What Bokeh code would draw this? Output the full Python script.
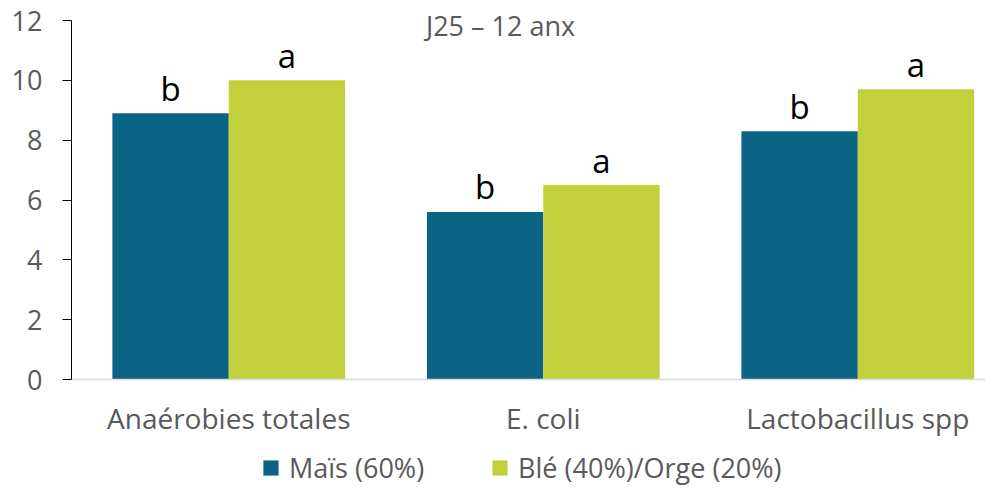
from bokeh.plotting import figure
from bokeh.layouts import column
from bokeh.models import (Range1d, FixedTicker, ColumnDataSource, Legend, LegendItem, Label)
from bokeh.core.properties import value
from bokeh.embed import file_html
from bokeh.resources import INLINE

categories = ["Anaérobies totales", "E. coli", "Lactobacillus spp"]
series_names = ["Maïs (60%)", "Blé (40%)/Orge (20%)"]
mais = [8.9, 5.6, 8.3]
ble = [10.0, 6.5, 9.7]
mais_letters = ["b", "b", "b"]
ble_letters = ["a", "a", "a"]
title_text = "J25 – 12 anx"
y_ticks = [0, 2, 4, 6, 8, 10, 12]

C_MAIS = "#0B6483"
C_BLE = "#C2D13B"
GREY = "#595959"
FONT = "Open Sans"

centers = [i + 0.5 for i in range(len(categories))]
bw = 0.37
y_max = max(y_ticks)

# main chart: frame spans 2px..379px; the y axis line stops at 12
p = figure(width=985, height=448, output_backend="svg", toolbar_location=None,
           x_range=Range1d(0, 2.906), y_range=Range1d(0, y_max * 377 / 359),
           min_border_left=71, min_border_top=2, min_border_right=0, min_border_bottom=69)
p.outline_line_color = None
p.grid.grid_line_color = None
p.background_fill_color = None
p.border_fill_color = "white"

src_m = ColumnDataSource(dict(x=[c - bw / 2 for c in centers], top=mais, t=mais_letters))
src_b = ColumnDataSource(dict(x=[c + bw / 2 for c in centers], top=ble, t=ble_letters))

r_m = p.vbar(x="x", top="top", width=bw, bottom=0, source=src_m, fill_color=C_MAIS, line_color=None)
r_b = p.vbar(x="x", top="top", width=bw, bottom=0, source=src_b, fill_color=C_BLE, line_color=None)

for src in (src_m, src_b):
    p.text(x="x", y="top", text="t", source=src, text_align="center", text_baseline="alphabetic",
           y_offset=-25, text_font=value(FONT), text_font_size="33px", text_color="black")

# y axis
ya = p.yaxis[0]
ya.ticker = FixedTicker(ticks=y_ticks)
ya.bounds = (0, y_max)
ya.axis_line_color = "black"
ya.major_tick_line_color = "black"
ya.major_tick_out = 9
ya.major_tick_in = 0
ya.minor_tick_line_color = None
ya.major_label_text_font = FONT
ya.major_label_text_font_size = "27px"
ya.major_label_text_color = GREY
ya.major_label_standoff = 20

# x axis
xa = p.xaxis[0]
xa.ticker = FixedTicker(ticks=centers)
xa.major_label_overrides = {c: name for c, name in zip(centers, categories)}
xa.axis_line_color = "#D9D9D9"
xa.axis_line_width = 1.5
xa.major_tick_line_color = None
xa.minor_tick_line_color = None
xa.major_label_text_font = FONT
xa.major_label_text_font_size = "28px"
xa.major_label_text_color = GREY
xa.major_label_standoff = 13

title = Label(x=429, y=354, x_units="screen", y_units="screen", text=title_text,
              text_align="center", text_baseline="alphabetic", text_font=FONT,
              text_font_size="27px", text_color=GREY)
p.add_layout(title)

# legend strip underneath (its own renderers lie outside its visible range)
p2 = figure(width=985, height=38, output_backend="svg", toolbar_location=None,
            x_range=Range1d(100, 101), y_range=Range1d(100, 101),
            x_axis_location=None, y_axis_location=None,
            min_border_left=0, min_border_right=0, min_border_top=0, min_border_bottom=0)
p2.outline_line_color = None
p2.grid.grid_line_color = None
p2.background_fill_color = None
p2.border_fill_color = "white"
k_m = p2.vbar(x="x", top="top", width=bw, bottom=0, source=src_m, fill_color=C_MAIS, line_color=None)
k_b = p2.vbar(x="x", top="top", width=bw, bottom=0, source=src_b, fill_color=C_BLE, line_color=None)

legend = Legend(items=[LegendItem(label=series_names[0], renderers=[k_m]),
                       LegendItem(label=series_names[1], renderers=[k_b])],
                orientation="horizontal", location=(190, 0),
                label_text_font=FONT, label_text_font_size="27px", label_text_color=GREY,
                glyph_width=19, glyph_height=19, label_standoff=9, spacing=66,
                padding=0, margin=0, border_line_color=None, background_fill_alpha=0)
p2.add_layout(legend, "center")

layout = column(p, p2, spacing=0)
open("out.html", "w").write(file_html(layout, INLINE))
